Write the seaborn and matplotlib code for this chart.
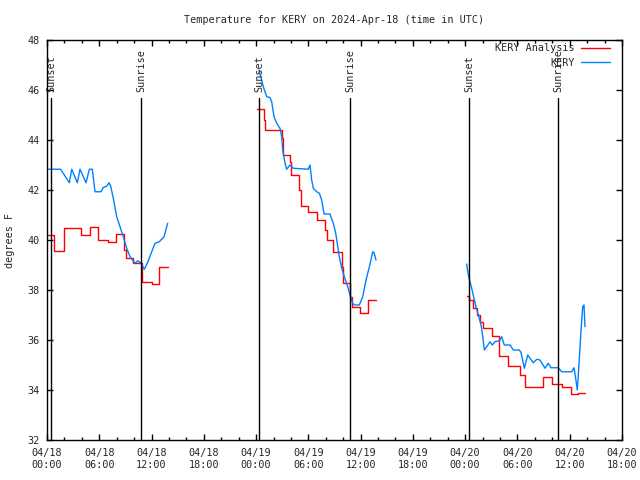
import matplotlib
matplotlib.use("Agg")
import matplotlib.pyplot as plt
from matplotlib.lines import Line2D
from matplotlib.ticker import MultipleLocator, FixedLocator
import seaborn as sns

# ---- data (hours since 2024-04-18 00:00 UTC, temperature in F) ----
obs1_h = [0.03, 1.57, 2.56, 2.84, 3.48, 3.79, 4.48, 4.86, 5.20, 5.51, 6.20, 6.46, 6.85, 7.12,
          7.31, 7.61, 8.00, 8.38, 8.76, 9.15, 9.53, 10.10, 10.41, 10.79, 11.17, 11.51, 12.02,
          12.40, 12.89, 13.43, 13.85]
obs1_f = [42.83, 42.83, 42.29, 42.83, 42.29, 42.83, 42.29, 42.83, 42.83, 41.93, 41.93, 42.10,
          42.15, 42.29, 42.15, 41.67, 40.93, 40.53, 40.13, 39.67, 39.33, 39.07, 39.17, 39.07,
          38.83, 39.07, 39.53, 39.87, 39.93, 40.13, 40.67]

obs2_h = [24.33, 24.64, 24.83, 25.22, 25.60, 25.79, 26.06, 26.37, 26.74, 26.94, 27.05, 27.32,
          27.51, 27.89, 28.27, 29.99, 30.19, 30.38, 30.57, 30.96, 31.26, 31.53, 31.80, 32.48,
          32.86, 33.14, 33.32, 33.55, 33.83, 34.13, 34.52, 34.78, 35.09, 35.27, 35.85, 36.24,
          36.62, 37.00, 37.39, 37.53, 37.76]
obs2_f = [46.80, 46.40, 46.13, 45.73, 45.70, 45.53, 44.93, 44.67, 44.47, 44.13, 43.60, 43.07,
          42.83, 43.00, 42.87, 42.83, 43.00, 42.40, 42.07, 41.93, 41.87, 41.60, 41.04, 41.04,
          40.67, 40.27, 39.87, 39.33, 38.87, 38.53, 38.13, 37.80, 37.47, 37.40, 37.40, 37.73,
          38.40, 38.93, 39.53, 39.50, 39.20]

obs3_h = [48.17, 48.36, 48.55, 48.75, 49.01, 49.24, 49.51, 49.82, 49.97, 50.20, 50.47, 50.85,
          51.11, 51.42, 51.92, 52.19, 52.49, 53.15, 53.52, 54.21, 54.41, 54.79, 55.18, 55.44,
          55.82, 56.21, 56.59, 57.16, 57.54, 57.85, 58.69, 59.08, 60.23, 60.49, 60.68, 60.87,
          61.07, 61.30, 61.49, 61.64, 61.75]
obs3_f = [39.04, 38.60, 38.33, 38.07, 37.67, 37.33, 37.00, 36.60, 36.27, 35.60, 35.73, 35.93,
          35.80, 35.93, 35.97, 36.13, 35.80, 35.80, 35.60, 35.60, 35.50, 34.87, 35.40, 35.27,
          35.09, 35.23, 35.20, 34.87, 35.07, 34.89, 34.89, 34.73, 34.73, 34.89, 34.47, 34.00,
          35.07, 36.40, 37.33, 37.40, 36.53]

ana1_h = [0.00, 0.85, 1.95, 3.85, 4.95, 5.90, 7.00, 7.95, 8.80, 9.10, 9.90, 10.95, 12.00, 12.90, 13.85]
ana1_f = [40.20, 39.56, 40.47, 40.20, 40.50, 40.00, 39.92, 40.23, 39.60, 39.27, 39.07, 38.31,
          38.24, 38.93, 38.93]

ana2_h = [24.14, 24.90, 25.00, 26.94, 27.05, 27.89, 28.00, 28.96, 29.10, 30.00, 30.96, 31.91,
          32.10, 32.86, 33.85, 34.00, 34.78, 35.00, 35.93, 36.88, 37.76]
ana2_f = [45.23, 44.80, 44.40, 44.07, 43.40, 43.13, 42.60, 42.00, 41.36, 41.13, 40.80, 40.40,
          40.00, 39.53, 38.93, 38.27, 37.73, 37.33, 37.07, 37.60, 37.60]

ana3_h = [48.17, 48.45, 48.90, 49.30, 49.70, 50.10, 51.10, 51.90, 52.90, 54.30, 54.90, 56.90,
          58.00, 59.10, 60.20, 60.90, 61.80]
ana3_f = [37.76, 37.60, 37.27, 37.00, 36.73, 36.47, 36.16, 35.36, 34.96, 34.60, 34.11, 34.51,
          34.24, 34.13, 33.84, 33.87, 33.87]

sun_h = [0.46, 10.79, 24.33, 34.78, 48.44, 58.66]
sun_lbl = ["Sunset", "Sunrise", "Sunset", "Sunrise", "Sunset", "Sunrise"]

xtick_h = [0, 6, 12, 18, 24, 30, 36, 42, 48, 54, 60, 66]
xtick_lbl = ["04/18\n00:00", "04/18\n06:00", "04/18\n12:00", "04/18\n18:00",
             "04/19\n00:00", "04/19\n06:00", "04/19\n12:00", "04/19\n18:00",
             "04/20\n00:00", "04/20\n06:00", "04/20\n12:00", "04/20\n18:00"]

RED = "#ff0000"
BLUE = "#0080ff"

sns.set_style("ticks")
plt.rcParams["font.family"] = ["DejaVu Sans Mono"]
FS = 7.3

fig = plt.figure(figsize=(6.4, 4.8), dpi=100)
ax = fig.add_axes([47 / 640, 40 / 480, 575 / 640, 400 / 480])

for h, f in [(ana1_h, ana1_f), (ana2_h, ana2_f), (ana3_h, ana3_f)]:
    sns.lineplot(x=h, y=f, ax=ax, color=RED, lw=1.0, drawstyle="steps-post",
                 sort=False, estimator=None)
for h, f in [(obs1_h, obs1_f), (obs2_h, obs2_f), (obs3_h, obs3_f)]:
    sns.lineplot(x=h, y=f, ax=ax, color=BLUE, lw=1.0, sort=False, estimator=None)

for h, lbl in zip(sun_h, sun_lbl):
    ax.axvline(h, ymin=0, ymax=0.855, color="black", lw=1.0)
    ax.text(h, 45.93, lbl, rotation=90, ha="center", va="bottom", fontsize=FS)

ax.set_xlim(0, 66)
ax.set_ylim(32, 48)
ax.xaxis.set_major_locator(FixedLocator(xtick_h))
ax.set_xticklabels(xtick_lbl)
ax.xaxis.set_minor_locator(MultipleLocator(2))
ax.yaxis.set_major_locator(MultipleLocator(2))
ax.tick_params(which="both", direction="in", top=True, right=True, labelsize=FS, width=1,
               color="black")
ax.tick_params(which="major", length=4.5)
ax.tick_params(which="minor", length=2.5)
ax.tick_params(axis="x", pad=6)
ax.tick_params(axis="y", pad=5)
for s in ax.spines.values():
    s.set_color("black")
    s.set_linewidth(1.0)

ax.set_xlabel("")
ax.set_ylabel("degrees F", fontsize=FS, labelpad=9)
ax.set_title("Temperature for KERY on 2024-Apr-18 (time in UTC)", fontsize=FS, pad=12)

handles = [Line2D([], [], color=RED, lw=1.0), Line2D([], [], color=BLUE, lw=1.0)]
ax.legend(handles, ["KERY Analysis", "KERY"], loc="upper right", frameon=False,
          bbox_to_anchor=(0.979, 0.992), markerfirst=False, fontsize=FS,
          handlelength=2.9, handletextpad=0.6, labelspacing=0.45,
          borderaxespad=0.0, borderpad=0.0)

fig.savefig("out.png", dpi=100, facecolor="white")
